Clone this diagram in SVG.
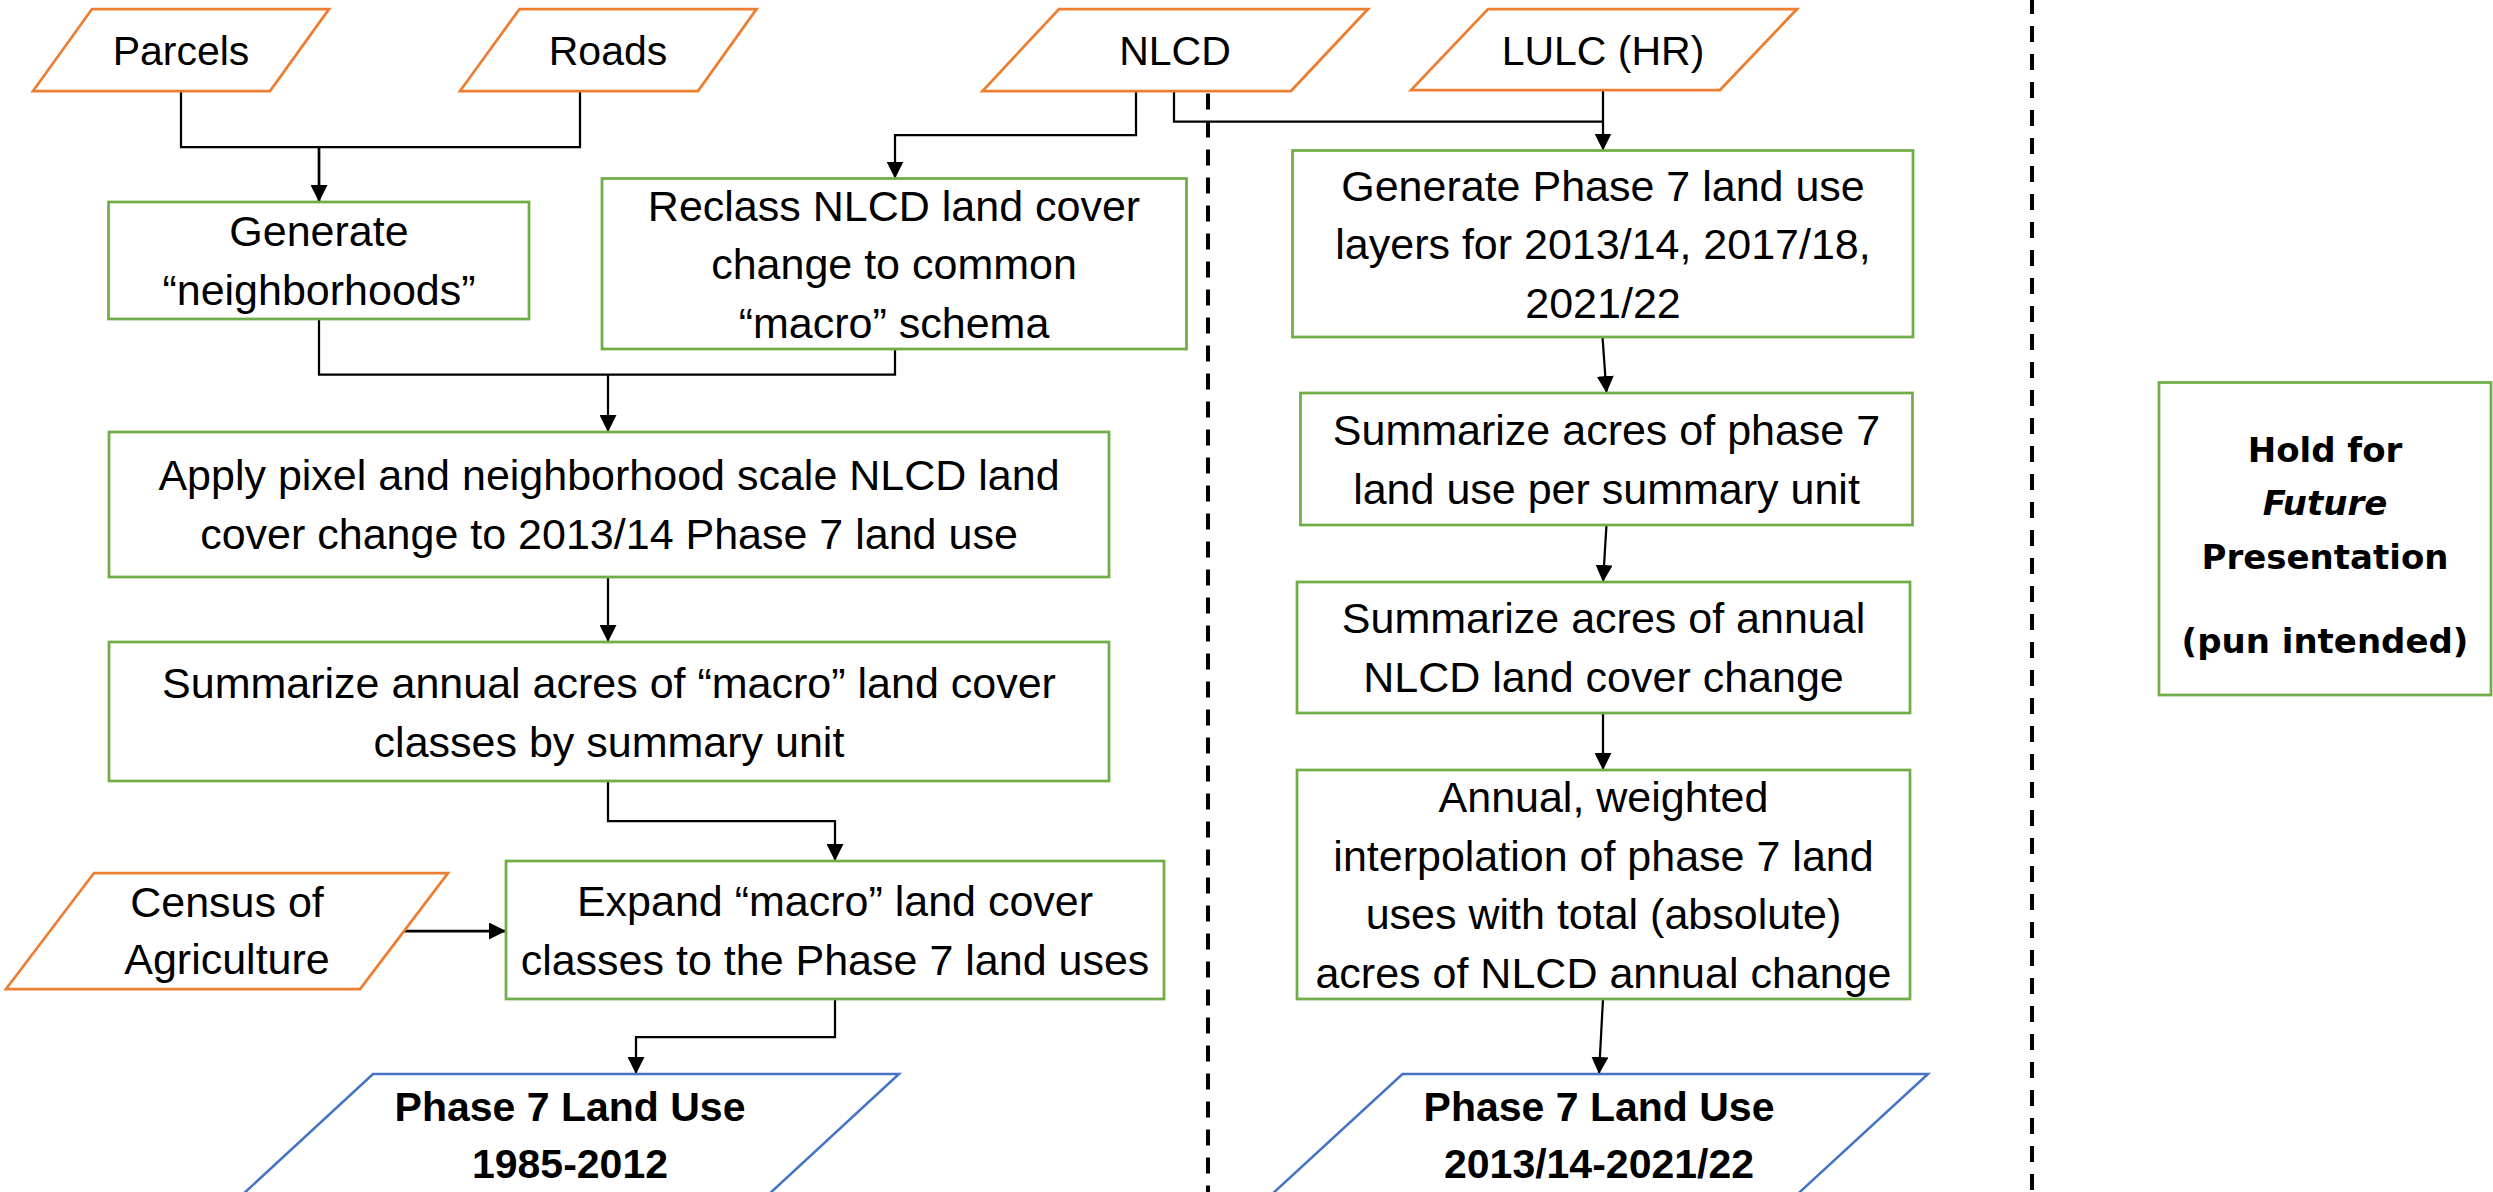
<svg xmlns="http://www.w3.org/2000/svg" width="2493" height="1192" viewBox="0 0 2493 1192">
<defs>
<style>
.io{fill:#fff;stroke:#ED7D31;stroke-width:2.75}
.proc{fill:#fff;stroke:#70AD47;stroke-width:2.75}
.out{fill:#fff;stroke:#4472C4;stroke-width:2.5}
.t{font-family:"Liberation Sans",Arial,sans-serif;font-size:43px;text-anchor:middle;fill:#000}
.ti{font-size:41px}
.tb{font-weight:bold;font-size:41px}
.th{font-family:"DejaVu Sans",Verdana,sans-serif;font-weight:bold;font-size:34px;text-anchor:middle;fill:#000}
.conn{fill:none;stroke:#000;stroke-width:2.25}
.dash{fill:none;stroke:#000;stroke-width:4;stroke-dasharray:16 12}
</style>
<marker id="arr" markerUnits="userSpaceOnUse" markerWidth="17" markerHeight="17" refX="16" refY="8" orient="auto" viewBox="0 0 16 16">
<path d="M0,0 L16,8 L0,16 z" fill="#000"/>
</marker>
</defs>
<rect x="0" y="0" width="2493" height="1192" fill="#fff"/>

<g id="separators">
<line class="dash" x1="1208" y1="93.5" x2="1208" y2="1192"/>
<line class="dash" x1="2032" y1="-2" x2="2032" y2="1192"/>
</g>

<g id="connectors">
<path class="conn" d="M181,91 V147 H580 V91"/>
<path class="conn" d="M319,147 V202" marker-end="url(#arr)" style="stroke-width:2.75"/>
<path class="conn" d="M1136,91 V135 H895 V178.5" marker-end="url(#arr)"/>
<path class="conn" d="M1174,91 V121.5 H1603"/>
<path class="conn" d="M1603,90 V150.5" marker-end="url(#arr)"/>
<path class="conn" d="M319,319 V374.5 H895 V349"/>
<path class="conn" d="M608,374.5 V432" marker-end="url(#arr)"/>
<path class="conn" d="M608,577 V642" marker-end="url(#arr)"/>
<path class="conn" d="M608,781 V821 H835 V861" marker-end="url(#arr)"/>
<path class="conn" d="M403,931 H506" marker-end="url(#arr)" style="stroke-width:2.75"/>
<path class="conn" d="M835,999 V1037 H636 V1074" marker-end="url(#arr)"/>
<path class="conn" d="M1602.5,337 L1606.5,393" marker-end="url(#arr)"/>
<path class="conn" d="M1606.5,525 L1603,582" marker-end="url(#arr)"/>
<path class="conn" d="M1603,713 L1603,770" marker-end="url(#arr)"/>
<path class="conn" d="M1603,999 L1599,1074" marker-end="url(#arr)"/>
</g>

<g id="parcels">
<polygon class="io" points="92,9 329,9 270,91 33,91"/>
<text class="t ti" x="181" y="65">Parcels</text>
</g>
<g id="roads">
<polygon class="io" points="519.5,9 756.5,9 698,91 460,91"/>
<text class="t ti" x="608" y="65">Roads</text>
</g>
<g id="nlcd">
<polygon class="io" points="1059,9 1368,9 1291,91 982.5,91"/>
<text class="t ti" x="1175" y="65">NLCD</text>
</g>
<g id="lulc">
<polygon class="io" points="1488,9 1797,9 1720,90 1411,90"/>
<text class="t ti" x="1603" y="65">LULC (HR)</text>
</g>

<g id="generate-neighborhoods">
<rect class="proc" x="108.5" y="202" width="420.5" height="117"/>
<text class="t" x="319" y="246">Generate</text>
<text class="t" x="319" y="305">“neighborhoods”</text>
</g>
<g id="reclass">
<rect class="proc" x="602" y="178.5" width="584.5" height="170.5"/>
<text class="t" x="894" y="220.5">Reclass NLCD land cover</text>
<text class="t" x="894" y="279">change to common</text>
<text class="t" x="894" y="337.5">“macro” schema</text>
</g>
<g id="apply">
<rect class="proc" x="109" y="432" width="1000" height="145"/>
<text class="t" x="609" y="490">Apply pixel and neighborhood scale NLCD land</text>
<text class="t" x="609" y="548.5">cover change to 2013/14 Phase 7 land use</text>
</g>
<g id="summarize-macro">
<rect class="proc" x="109" y="642" width="1000" height="139"/>
<text class="t" x="609" y="698">Summarize annual acres of “macro” land cover</text>
<text class="t" x="609" y="756.5">classes by summary unit</text>
</g>
<g id="census">
<polygon class="io" points="94,873 448,873 360,989 6,989"/>
<text class="t" x="227" y="917">Census of</text>
<text class="t" x="227" y="973.5">Agriculture</text>
</g>
<g id="expand">
<rect class="proc" x="506" y="861" width="658" height="138"/>
<text class="t" x="835" y="916">Expand “macro” land cover</text>
<text class="t" x="835" y="974.5">classes to the Phase 7 land uses</text>
</g>
<g id="output-1985-2012">
<polygon class="out" points="373,1074 899,1074 767,1196 241,1196"/>
<text class="t tb" x="570" y="1121">Phase 7 Land Use</text>
<text class="t tb" x="570" y="1178">1985-2012</text>
</g>

<g id="generate-phase7">
<rect class="proc" x="1292.5" y="150.5" width="620.5" height="186.5"/>
<text class="t" x="1603" y="200.5">Generate Phase 7 land use</text>
<text class="t" x="1603" y="259">layers for 2013/14, 2017/18,</text>
<text class="t" x="1603" y="317.5">2021/22</text>
</g>
<g id="summarize-phase7">
<rect class="proc" x="1300.5" y="393" width="612" height="132"/>
<text class="t" x="1606.5" y="445">Summarize acres of phase 7</text>
<text class="t" x="1606.5" y="503.5">land use per summary unit</text>
</g>
<g id="summarize-nlcd">
<rect class="proc" x="1297" y="582" width="613" height="131"/>
<text class="t" x="1603.5" y="633">Summarize acres of annual</text>
<text class="t" x="1603.5" y="691.5">NLCD land cover change</text>
</g>
<g id="interpolation">
<rect class="proc" x="1297" y="770" width="613" height="229"/>
<text class="t" x="1603.5" y="812">Annual, weighted</text>
<text class="t" x="1603.5" y="870.5">interpolation of phase 7 land</text>
<text class="t" x="1603.5" y="929">uses with total (absolute)</text>
<text class="t" x="1603.5" y="987.5">acres of NLCD annual change</text>
</g>
<g id="output-2013-2022">
<polygon class="out" points="1402.5,1074 1928,1074 1795.5,1196 1270,1196"/>
<text class="t tb" x="1599" y="1121">Phase 7 Land Use</text>
<text class="t tb" x="1599" y="1178">2013/14-2021/22</text>
</g>

<g id="hold">
<rect class="proc" x="2159" y="382.5" width="332" height="312.5"/>
<text class="th" x="2325" y="462">Hold for</text>
<text class="th" x="2325" y="515" font-style="italic">Future</text>
<text class="th" x="2325" y="569">Presentation</text>
<text class="th" x="2325" y="653">(pun intended)</text>
</g>
</svg>
